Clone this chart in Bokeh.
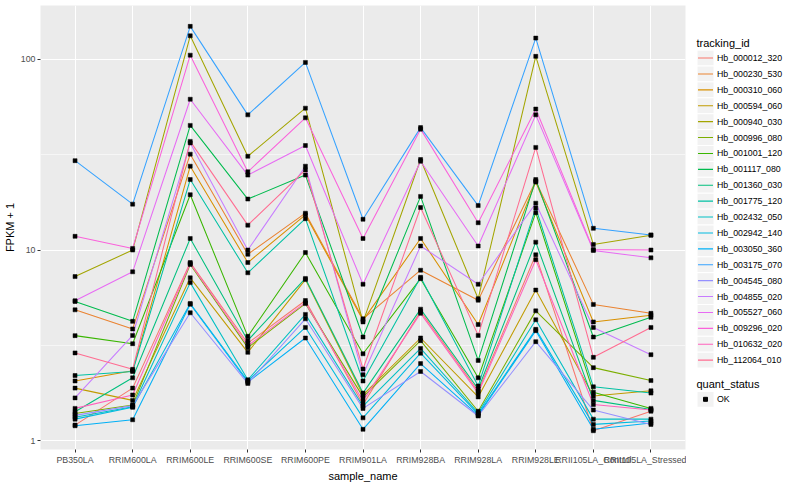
import numpy as np
from bokeh.plotting import figure
from bokeh.models import Range1d, FixedTicker, ColumnDataSource, BasicTickFormatter
from bokeh.layouts import row
from bokeh.embed import file_html
from bokeh.resources import INLINE
from bokeh.core.properties import value

# ---------------- data ----------------
sample_names = ["PB350LA", "RRIM600LA", "RRIM600LE", "RRIM600SE", "RRIM600PE",
                "RRIM901LA", "RRIM928BA", "RRIM928LA", "RRIM928LE",
                "RRII105LA_Control", "RRII105LA_Stressed"]

tracking_ids = ["Hb_000012_320", "Hb_000230_530", "Hb_000310_060", "Hb_000594_060",
                "Hb_000940_030", "Hb_000996_080", "Hb_001001_120", "Hb_001117_080",
                "Hb_001360_030", "Hb_001775_120", "Hb_002432_050", "Hb_002942_140",
                "Hb_003050_360", "Hb_003175_070", "Hb_004545_080", "Hb_004855_020",
                "Hb_005527_060", "Hb_009296_020", "Hb_010632_020", "Hb_112064_010"]

colors = ["#F8766D", "#EA8331", "#D89000", "#C09B00", "#A3A500", "#7CAE00", "#39B600",
          "#00BB4E", "#00BF7D", "#00C1A3", "#00BFC4", "#00BAE0", "#00B0F6", "#35A2FF",
          "#9590FF", "#C77CFF", "#E76BF3", "#FA62DB", "#FF62BC", "#FF6C91"]

# FPKM + 1 per sample (order of sample_names)
hb_000012_320 = [1.21, 1.89, 8.6, 3.25, 5.44, 1.55, 4.77, 1.82, 9.44, 1.13, 1.43]
hb_000230_530 = [4.86, 3.86, 31.8, 9.5, 15.6, 4.36, 7.84, 5.46, 23.0, 5.19, 4.66]
hb_000310_060 = [2.06, 2.33, 27.5, 8.6, 15.3, 4.28, 11.5, 4.07, 22.7, 4.2, 4.55]
hb_000594_060 = [1.89, 1.63, 7.15, 2.91, 7.0, 1.74, 3.46, 1.70, 6.17, 1.72, 1.83]
hb_000940_030 = [7.26, 10.0, 132.6, 31.0, 55.4, 4.2, 29.8, 5.56, 103.5, 10.7, 11.95]
hb_000996_080 = [1.39, 1.54, 8.4, 3.08, 5.24, 1.70, 3.35, 1.43, 4.8, 2.42, 2.07]
hb_001001_120 = [3.56, 3.23, 19.5, 3.53, 9.7, 2.86, 7.08, 2.14, 15.7, 1.80, 1.48]
hb_001117_080 = [5.38, 4.23, 45.0, 18.5, 24.7, 3.5, 19.1, 2.64, 23.4, 3.5, 4.44]
hb_001360_030 = [1.42, 2.14, 11.5, 3.36, 7.1, 1.78, 4.9, 1.87, 11.0, 1.63, 1.46]
hb_001775_120 = [2.20, 2.31, 23.4, 7.6, 14.6, 2.06, 7.2, 1.94, 16.6, 1.92, 1.78]
hb_002432_050 = [1.33, 1.51, 6.75, 2.09, 4.6, 1.52, 3.05, 1.40, 4.31, 1.30, 1.30]
hb_002942_140 = [1.30, 1.50, 5.25, 2.06, 3.93, 1.32, 2.88, 1.38, 3.84, 1.22, 1.27]
hb_003050_360 = [1.20, 1.29, 5.2, 2.03, 3.46, 1.15, 2.54, 1.36, 3.78, 1.15, 1.24]
hb_003175_070 = [29.4, 17.4, 148.6, 51.1, 96.2, 14.5, 43.8, 17.1, 129.0, 13.0, 12.0]
hb_004545_080 = [1.36, 1.53, 4.69, 2.0, 4.36, 1.48, 2.31, 1.35, 3.31, 1.45, 1.22]
hb_004855_020 = [1.68, 3.57, 36.4, 10.0, 27.5, 2.22, 10.5, 6.62, 17.6, 3.93, 2.83]
hb_005527_060 = [5.42, 7.69, 61.7, 24.7, 35.3, 6.62, 29.2, 10.5, 51.1, 9.95, 9.1]
hb_009296_020 = [11.8, 10.2, 105.0, 25.7, 49.3, 11.5, 43.0, 13.9, 54.8, 10.05, 10.0]
hb_010632_020 = [1.48, 1.74, 8.5, 3.15, 5.3, 1.62, 4.66, 1.78, 8.9, 1.55, 1.45]
hb_112064_010 = [2.89, 2.37, 37.1, 13.5, 26.3, 2.38, 16.7, 3.57, 34.5, 2.74, 3.93]

series_values = [hb_000012_320, hb_000230_530, hb_000310_060, hb_000594_060,
                 hb_000940_030, hb_000996_080, hb_001001_120, hb_001117_080,
                 hb_001360_030, hb_001775_120, hb_002432_050, hb_002942_140,
                 hb_003050_360, hb_003175_070, hb_004545_080, hb_004855_020,
                 hb_005527_060, hb_009296_020, hb_010632_020, hb_112064_010]

y_ticks = [1, 10, 100]
y_tick_labels = ["1", "10", "100"]
y_minor = [10 ** 0.5, 10 ** 1.5]
quant_status = ["OK"]

FONT = "Liberation Sans"

# ---------------- main plot ----------------
x_pos = list(range(len(sample_names)))

p = figure(width=686, height=484, y_axis_type="log",
           x_range=Range1d(-0.6, len(sample_names) - 0.4),
           y_range=Range1d(10 ** -0.0452, 10 ** 2.2814),
           output_backend="svg", toolbar_location=None,
           min_border_left=40, min_border_right=1, min_border_top=5, min_border_bottom=10)
p.background_fill_color = "#EBEBEB"
p.border_fill_color = "white"
p.outline_line_color = None

for vals, col in zip(series_values, colors):
    p.line(x_pos, vals, line_color=col, line_width=1.05)

px, py = [], []
for vals in series_values:
    px.extend(x_pos)
    py.extend(vals)
p.scatter(x="x", y="y", source=ColumnDataSource(dict(x=px, y=py)),
          marker="square", size=4, fill_color="black", line_color="black", line_width=0.5)

p.xaxis.ticker = FixedTicker(ticks=x_pos)
p.xaxis.major_label_overrides = {i: s for i, s in enumerate(sample_names)}
p.yaxis.ticker = FixedTicker(ticks=y_ticks, minor_ticks=y_minor)
p.yaxis.formatter = BasicTickFormatter()
p.yaxis.major_label_overrides = {t: l for t, l in zip(y_ticks, y_tick_labels)}
p.xaxis.axis_label = "sample_name"
p.yaxis.axis_label = "FPKM + 1"

for ax in p.axis:
    ax.axis_line_color = None
    ax.major_tick_out = 3
    ax.major_tick_in = 0
    ax.minor_tick_out = 0
    ax.minor_tick_in = 0
    ax.minor_tick_line_color = None
    ax.major_tick_line_color = "#333333"
    ax.major_label_text_color = "#4D4D4D"
    ax.major_label_text_font = FONT
    ax.major_label_text_font_size = "8.8px"
    ax.major_label_standoff = 2
    ax.axis_label_text_font = FONT
    ax.axis_label_text_font_size = "11px"
    ax.axis_label_text_font_style = "normal"
    ax.axis_label_text_color = "black"
    ax.axis_label_standoff = 2

p.xgrid.ticker = FixedTicker(ticks=x_pos)
p.xgrid.grid_line_color = "white"
p.xgrid.grid_line_width = 1.1
p.ygrid.ticker = FixedTicker(ticks=y_ticks, minor_ticks=y_minor)
p.ygrid.grid_line_color = "white"
p.ygrid.grid_line_width = 1.1
p.ygrid.minor_grid_line_color = "white"
p.ygrid.minor_grid_line_width = 0.55

# ---------------- legend panel ----------------
lg = figure(width=98, height=484, x_range=Range1d(686, 784), y_range=Range1d(484, 0),
            output_backend="svg", toolbar_location=None,
            x_axis_location=None, y_axis_location=None, min_border=0)
lg.grid.visible = False
lg.outline_line_color = None
lg.background_fill_color = "white"
lg.border_fill_color = "white"

key_y = [57.3 + 17.33 * i for i in range(len(tracking_ids))]
lg.text(x=[696], y=[40.7], text=["tracking_id"], text_baseline="middle",
        text_font=value(FONT), text_font_size=value("11px"), text_color="black")
lg.rect(x=705, y=key_y, width=17, height=17.3, fill_color="#F2F2F2",
        line_color="white", line_width=1)
lg.segment(x0=697.5, y0=key_y, x1=712.5, y1=key_y, line_color=colors, line_width=1.1)
lg.text(x=716.5, y=key_y, text=tracking_ids, text_baseline="middle",
        text_font=value(FONT), text_font_size=value("8.8px"), text_color="black")

lg.text(x=[696], y=[412.7], text=["quant_status"], text_baseline="middle",
        text_font=value(FONT), text_font_size=value("11px"), text_color="black")
lg.rect(x=705, y=[429.3], width=17, height=17.3, fill_color="#F2F2F2",
        line_color="white", line_width=1)
lg.scatter(x=[705], y=[429.3], marker="square", size=4, color="black")
lg.text(x=716.5, y=[429.3], text=quant_status, text_baseline="middle",
        text_font=value(FONT), text_font_size=value("8.8px"), text_color="black")

layout = row(p, lg)
open("out.html", "w").write(file_html(layout, INLINE))
